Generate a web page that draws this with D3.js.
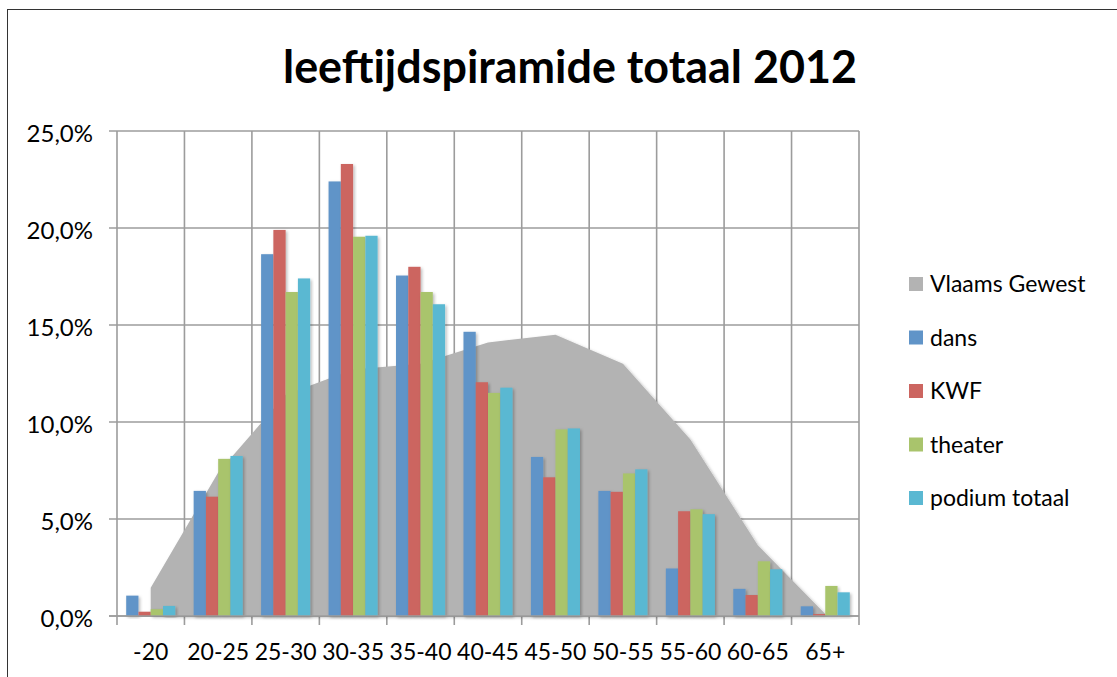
<!DOCTYPE html>
<html>
<head>
<meta charset="utf-8">
<script src="https://cdn.jsdelivr.net/npm/d3@7/dist/d3.min.js"></script>
<style>
  html, body { margin: 0; padding: 0; background: #fff; }
  svg { display: block; }
  text { font-family: Lato, "Open Sans", sans-serif; fill: #000; }
</style>
</head>
<body>
<svg id="chart" width="1117" height="677"></svg>
<script>
// ---- data ----
const categories = ["-20", "20-25", "25-30", "30-35", "35-40", "40-45", "45-50", "50-55", "55-60", "60-65", "65+"];
const vlaamsGewest = [1.45, 7.4, 11.4, 12.7, 13.0, 14.1, 14.5, 13.0, 9.1, 3.65, 0.1];
const dans        = [1.05, 6.45, 18.65, 22.4, 17.55, 14.65, 8.2, 6.45, 2.45, 1.4, 0.5];
const kwf         = [0.22, 6.15, 19.9, 23.3, 18.0, 12.05, 7.15, 6.4, 5.4, 1.08, 0.1];
const theater     = [0.35, 8.1, 16.7, 19.55, 16.7, 11.5, 9.62, 7.35, 5.5, 2.82, 1.55];
const podiumTotaal= [0.52, 8.25, 17.4, 19.6, 16.07, 11.77, 9.67, 7.56, 5.25, 2.41, 1.22];
const barSeriesNames = ["dans", "KWF", "theater", "podium totaal"];
const barSeriesValues = [dans, kwf, theater, podiumTotaal];
const legendNames = ["Vlaams Gewest", "dans", "KWF", "theater", "podium totaal"];
const yTicks = [0, 5, 10, 15, 20, 25];
const chartTitle = "leeftijdspiramide totaal 2012";

// ---- styles ----
const colors = { "Vlaams Gewest": "#b3b3b3", "dans": "#6094c8", "KWF": "#cc6560", "theater": "#a9c46c", "podium totaal": "#5ab8d2" };
const gridColor = "#9c9c9c";

const svg = d3.select("#chart");

// shadow filter
const defs = svg.append("defs");
const f = defs.append("filter").attr("id", "shadow").attr("x", "-20%").attr("y", "-5%").attr("width", "150%").attr("height", "115%");
f.append("feDropShadow").attr("dx", 1.5).attr("dy", 1.5).attr("stdDeviation", 1.5).attr("flood-color", "#000").attr("flood-opacity", 0.28);

// frame
svg.append("rect").attr("x", 7.5).attr("y", 9.5).attr("width", 1130).attr("height", 700)
  .attr("fill", "none").attr("stroke", "#333").attr("stroke-width", 1);

const pL = 117, pR = 859, pT = 131, pB = 616;
const x = d3.scaleBand().domain(categories).range([pL, pR]).paddingInner(0).paddingOuter(0);
const y = d3.scaleLinear().domain([0, 25]).range([pB, pT]);
const bw = x.bandwidth();
const xs = d3.scaleBand().domain(barSeriesNames).range([bw * 0.75 / 5.5, bw * 4.75 / 5.5]).padding(0);

// y labels
const yAxis = d3.axisLeft(y).tickValues(yTicks).tickSize(0).tickPadding(14)
  .tickFormat(d => d3.format(".1f")(d).replace(".", ",") + "%");
const gy = svg.append("g").attr("transform", `translate(${pL - 8},0)`).call(yAxis);
gy.select(".domain").remove();
gy.selectAll(".tick text").attr("font-size", 24).attr("x", -16).attr("dy", "0.42em").attr("fill", "#000");

// gridlines
const grid = svg.append("g");
grid.selectAll("line.h").data(yTicks).join("line").attr("class", "h")
  .attr("x1", pL - 8).attr("x2", pR).attr("y1", d => y(d)).attr("y2", d => y(d))
  .attr("stroke", gridColor).attr("stroke-width", 1.6);
const bounds = categories.map(c => x(c)).concat([pR]);
grid.selectAll("line.v").data(bounds).join("line").attr("class", "v")
  .attr("x1", d => d).attr("x2", d => d).attr("y1", pT).attr("y2", pB + 9)
  .attr("stroke", gridColor).attr("stroke-width", 1.6);

// area
const area = d3.area()
  .x((d, i) => x(categories[i]) + bw / 2)
  .y0(y(0)).y1(d => y(d)).curve(d3.curveLinear);
svg.append("path").datum(vlaamsGewest).attr("d", area)
  .attr("fill", colors["Vlaams Gewest"]).attr("filter", "url(#shadow)");

// bars
const gBars = svg.append("g");
barSeriesNames.forEach((name, si) => {
  gBars.append("g").selectAll("rect").data(barSeriesValues[si]).join("rect")
    .attr("x", (d, i) => x(categories[i]) + xs(name))
    .attr("width", xs.bandwidth())
    .attr("y", d => y(d))
    .attr("height", d => y(0) - y(d))
    .attr("fill", colors[name])
    .attr("filter", "url(#shadow)");
});

// x axis baseline
svg.append("line").attr("x1", pL - 8).attr("x2", pR).attr("y1", y(0)).attr("y2", y(0))
  .attr("stroke", gridColor).attr("stroke-width", 1.6);

// x labels
const xAxis = d3.axisBottom(x).tickSize(0).tickPadding(0);
const gx = svg.append("g").attr("transform", `translate(0,${pB})`).call(xAxis);
gx.select(".domain").remove();
gx.selectAll(".tick text").attr("font-size", 23).attr("y", 44).attr("dy", null).attr("fill", "#000");

// title
const t = svg.append("text").attr("x", 570).attr("y", 83).attr("text-anchor", "middle")
  .attr("font-weight", "bold").attr("font-size", 40).text(chartTitle);
const tw = t.node().getComputedTextLength();
t.attr("font-size", 40 * 574 / tw);

// legend
const lg = svg.append("g");
legendNames.forEach((name, i) => {
  const cy = 284 + i * 53.5;
  lg.append("rect").attr("x", 909).attr("y", cy - 7).attr("width", 14).attr("height", 14).attr("fill", colors[name]);
  lg.append("text").attr("x", 930).attr("y", cy).attr("dy", "0.36em").attr("font-size", 23).text(name);
});
</script>
</body>
</html>
